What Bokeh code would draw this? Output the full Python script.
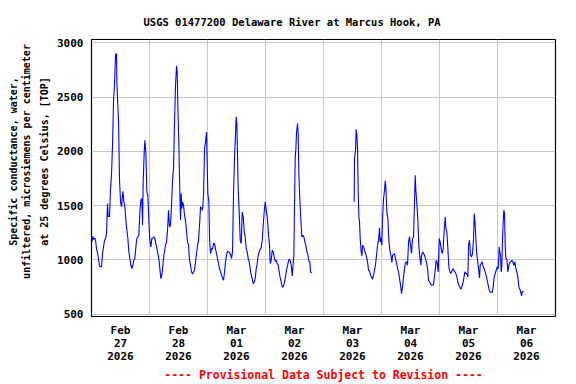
import numpy as np
import pandas as pd
from bokeh.plotting import figure
from bokeh.models import FixedTicker, Range1d, Title, ColumnDataSource
from bokeh.embed import file_html
from bokeh.resources import INLINE

# ---------------- data ----------------
start = pd.Timestamp("2026-02-27 00:00")

# segment 1: hours after Feb 27 00:00, specific conductance (uS/cm)
seg1_hours = [0.29, 0.56, 0.84, 1.39, 1.67, 2.08, 2.50, 2.91, 3.32, 4.15, 4.57, 4.98, 5.39, 5.81, 6.22, 6.63, 6.91, 7.46, 7.88, 8.29,
              8.70, 9.12, 9.53, 9.94, 10.36, 10.50, 10.77, 11.19, 11.60, 12.01, 12.43, 12.70, 12.98, 13.39, 13.81, 14.22, 14.63, 15.05, 15.46, 15.88,
              16.29, 16.70, 17.12, 17.53, 17.94, 18.36, 18.77, 19.19, 19.60, 20.01, 20.43, 20.84, 21.12, 21.39, 21.81, 22.08, 22.50, 22.91, 23.32, 23.74,
              24.15, 24.57, 24.98, 25.39, 25.81, 26.22, 26.63, 27.05, 27.46, 27.88, 28.29, 28.70, 29.12, 29.53, 29.94,
              30.63, 31.05, 31.46, 31.88, 32.29, 32.70, 33.12, 33.53, 33.94, 34.36, 34.77, 35.19, 35.46, 35.74, 36.15, 36.56, 36.84, 37.12, 37.39, 37.67,
              38.08, 38.50, 38.91, 39.32, 39.74, 40.15, 40.57, 40.98, 41.39, 41.81, 42.22, 42.63, 43.05, 43.46, 43.88, 44.29, 44.70, 45.12, 45.53, 45.94,
              46.36, 46.77, 47.19, 47.60, 47.88, 48.15, 48.57, 48.84, 49.25, 49.67, 50.08, 50.50, 50.91, 51.32, 51.74, 52.15, 52.57, 52.98, 53.39, 53.81,
              54.22, 54.63, 55.05, 55.46, 55.87, 56.29, 56.70, 57.12, 57.53, 57.94, 58.36, 58.77, 59.19, 59.60, 59.88, 60.15, 60.43,
              60.70, 61.12, 61.53, 61.94, 62.36, 62.77, 63.19, 63.60, 64.01, 64.43, 64.84, 65.26, 65.67, 66.08, 66.50, 66.91, 67.32, 67.74, 68.15, 68.57,
              68.98, 69.39, 69.81, 70.22, 70.63, 71.05, 71.46, 71.88, 72.15, 72.43, 72.84, 73.26, 73.67, 73.95, 74.36, 74.77, 75.19, 75.60, 76.01, 76.43,
              76.84, 77.26, 77.67, 78.08, 78.50, 78.91, 79.32, 79.74, 80.15, 80.57, 80.98, 81.39, 81.81, 82.22, 82.64, 83.05, 83.46, 83.74, 84.01, 84.29,
              84.57, 84.84, 85.26, 85.53, 85.81, 86.22, 86.64, 87.05, 87.46, 87.88, 88.29, 88.70, 89.12, 89.53, 89.95, 90.36, 90.63, 91.05]
seg1_values = [1170, 1220, 1190, 1200, 1180, 1105, 1060, 1013, 942, 935, 1060, 1120, 1180, 1197, 1243, 1520, 1400, 1400, 1657, 1786,
               2062, 2468, 2624, 2890, 2900, 2640, 2486, 2271, 1734, 1535, 1489, 1565, 1633, 1535, 1489, 1365, 1274, 1197, 1074, 1013,
               951, 920, 951, 997, 1013, 1120, 1197, 1212, 1228, 1442, 1550, 1565, 1320, 1718, 1995, 2102, 1980, 1627, 1596, 1350,
               1181, 1120, 1197, 1203, 1212, 1197, 1151, 1105, 1059, 1013, 920, 828, 859, 951, 1043,
               1135, 1166, 1274, 1458, 1304, 1320, 1504, 1734, 1842, 2271, 2609, 2787, 2732, 2410, 2057, 1627, 1366, 1612, 1473, 1535,
               1504, 1412, 1357, 1259, 1166, 1135, 997, 951, 890, 871, 890, 905, 982, 1059, 1135, 1181, 1320, 1489, 1473, 1458,
               1596, 2026, 2087, 2179, 1873, 1612, 1535, 1197, 1059, 1105, 1099, 1151, 1151, 1099, 1059, 1013, 967, 920, 890, 859,
               835, 813, 890, 982, 1043, 1081, 1074, 1068, 1050, 1013, 1074, 1612, 1949, 2164, 2317, 2256, 1965,
               1642, 1442, 1181, 1151, 1442, 1396, 1259, 1212, 1105, 1074, 1013, 982, 920, 859, 828, 782, 797, 828, 920, 967,
               1043, 1074, 1099, 1111, 1181, 1320, 1442, 1535, 1489, 1442, 1366, 1228, 1129, 967, 997, 1089, 1074, 1028, 988, 997,
               967, 951, 890, 835, 797, 752, 752, 782, 828, 890, 936, 976, 1007, 997, 951, 853, 967, 1043, 1504, 1934,
               2026, 2173, 2256, 2164, 1780, 1550, 1366, 1212, 1228, 1212, 1166, 1129, 1074, 1050, 988, 982, 890, 878]

# segment 2 (after the data gap)
seg2_hours = [108.70, 108.84, 109.25, 109.53, 109.81, 110.08, 110.36, 110.63, 110.91, 111.19, 111.60, 111.88, 112.15, 112.57, 112.98, 113.39, 113.81, 114.22, 114.63, 115.05,
              115.46, 115.88, 116.29, 116.70, 117.12, 117.53, 117.94, 118.36, 118.77, 119.19, 119.46, 119.74, 120.15, 120.43, 120.84, 121.25, 121.53, 121.81, 122.22, 122.63,
              123.05, 123.46, 123.88, 124.29, 124.57, 124.98, 125.39, 125.81, 126.22, 126.63, 127.05, 127.46, 127.88, 128.29, 128.70, 129.12, 129.53, 129.94, 130.36, 130.77,
              131.19, 131.60, 132.01, 132.43, 132.84, 133.25, 133.67, 133.94, 134.22, 134.63, 135.05, 135.46, 135.87, 136.29, 136.56, 136.98, 137.39, 137.81, 138.22, 138.63,
              139.05, 139.46, 139.88, 140.29, 140.70, 141.12, 141.53, 141.94, 142.36,
              142.63, 143.05, 143.46, 143.88, 144.29, 144.70, 145.12, 145.53, 145.94, 146.36, 146.63, 147.05, 147.46, 147.88, 148.29, 148.70, 149.12, 149.53, 149.94, 150.36,
              150.77, 151.19, 151.60, 152.01, 152.43, 152.84, 153.26, 153.67, 154.08, 154.50, 154.91, 155.32, 155.74, 156.01, 156.43, 156.84, 157.25, 157.67, 158.08, 158.36,
              158.63, 158.91, 159.32, 159.74, 160.15, 160.57, 160.84, 161.26, 161.67, 162.08, 162.50, 162.91, 163.32, 163.74, 164.15, 164.57, 164.98, 165.39, 165.81, 166.22,
              166.63, 167.05, 167.46, 167.88, 168.29, 168.70, 168.98, 169.25, 169.53, 169.81, 170.08, 170.36, 170.63, 170.91, 171.19, 171.46, 171.88, 172.29, 172.70, 173.12,
              173.53, 173.94, 174.36, 174.77, 175.19, 175.60, 176.01, 176.43, 176.84, 177.26, 177.67, 177.95, 178.22, 178.77]
seg2_values = [1535, 1934, 2010, 2204, 2149, 2026, 1627, 1396, 1350, 1197, 1074, 1037, 1135, 1120, 1089, 1059, 1028, 982, 905, 896,
               859, 844, 822, 859, 905, 957, 1043, 1135, 1181, 1295, 1166, 1203, 1135, 1381, 1565, 1642, 1728, 1673, 1442, 1381,
               1181, 1089, 1043, 976, 1043, 1050, 1059, 1013, 976, 920, 890, 828, 767, 690, 752, 844, 920, 976, 982, 951,
               1166, 1212, 1135, 1059, 1197, 1212, 1535, 1780, 1642, 1520, 1366, 1120, 1028, 951, 1037, 1074, 1059, 1043, 1013, 976,
               920, 813, 797, 782, 767, 767, 773, 859, 936,
               997, 967, 890, 1197, 1166, 1099, 1059, 1105, 1274, 1396, 1289, 1259, 1105, 936, 890, 875, 896, 920, 905, 890,
               875, 844, 797, 767, 752, 730, 752, 782, 835, 890, 875, 875, 844, 1135, 1181, 1043, 1028, 1059, 1197, 1427,
               1366, 1259, 1074, 997, 920, 835, 951, 967, 982, 936, 920, 890, 853, 813, 767, 721, 700, 706, 700, 752,
               844, 875, 905, 936, 920, 1120, 1074, 1037, 890, 951, 1197, 1350, 1458, 1427, 1135, 1013, 1007, 890, 951, 976,
               982, 997, 982, 951, 982, 920, 890, 844, 752, 730, 700, 669, 706, 712]

tick_days = ["2026-02-27", "2026-02-28", "2026-03-01", "2026-03-02", "2026-03-03", "2026-03-04", "2026-03-05", "2026-03-06"]
tick_labels = ["Feb\n27\n2026", "Feb\n28\n2026", "Mar\n01\n2026", "Mar\n02\n2026",
               "Mar\n03\n2026", "Mar\n04\n2026", "Mar\n05\n2026", "Mar\n06\n2026"]
y_ticks = [500, 1000, 1500, 2000, 2500, 3000]

title_text = "USGS 01477200 Delaware River at Marcus Hook, PA"
ylabel_lines = ["Specific conductance, water,",
                "unfiltered, microsiemens per centimeter",
                "at 25 degrees Celsius, [TOP]"]
footer_text = "---- Provisional Data Subject to Revision ----"

# ---------------- build ----------------
def to_ms(ts):
    return int(pd.Timestamp(ts).value // 10**6)

x1 = start + pd.to_timedelta(seg1_hours, unit="h")
x2 = start + pd.to_timedelta(seg2_hours, unit="h")
src1 = ColumnDataSource(dict(x=x1, y=seg1_values))
src2 = ColumnDataSource(dict(x=x2, y=seg2_values))

day0 = pd.Timestamp(tick_days[0])
x_start = to_ms(day0)
x_end = to_ms(pd.Timestamp(tick_days[-1]) + pd.Timedelta(days=1))
noon_ticks = [to_ms(pd.Timestamp(d) + pd.Timedelta(hours=12)) for d in tick_days]
midnight_ticks = [to_ms(pd.Timestamp(d)) for d in tick_days[1:]]

FONT = "DejaVu Sans Mono"

p = figure(width=576, height=384, x_axis_type="datetime",
           output_backend="svg", toolbar_location=None,
           x_range=Range1d(x_start, x_end), y_range=Range1d(479, 3030),
           min_border_left=91, min_border_right=21, min_border_top=39, min_border_bottom=68)

p.line("x", "y", source=src1, line_color="#0000ff", line_width=1.1)
p.line("x", "y", source=src2, line_color="#0000ff", line_width=1.1)

p.outline_line_color = "black"
p.outline_line_width = 1.2

for ax in (p.xaxis[0], p.yaxis[0]):
    ax.axis_line_color = None
    ax.major_tick_out = 0
    ax.major_tick_in = 0
    ax.minor_tick_out = 0
    ax.minor_tick_in = 0
    ax.major_label_text_font = FONT
    ax.major_label_text_font_style = "bold"
    ax.major_label_text_font_size = "11px"
    ax.major_label_text_color = "black"
    ax.major_label_text_line_height = 1.0

p.yaxis.ticker = FixedTicker(ticks=y_ticks)
p.yaxis.major_label_standoff = 8
p.xaxis.ticker = FixedTicker(ticks=noon_ticks)
p.xaxis.major_label_overrides = {t: lab for t, lab in zip(noon_ticks, tick_labels)}
p.xaxis.major_label_standoff = 7

p.xgrid.ticker = FixedTicker(ticks=midnight_ticks)
p.xgrid.grid_line_color = "#c8c8c8"
p.ygrid.grid_line_color = "#c8c8c8"
p.xgrid.grid_line_width = 1
p.ygrid.grid_line_width = 1

p.title = Title(text=title_text, align="left", offset=52, text_font=FONT,
                text_font_style="bold", text_font_size="10.5px", text_color="black", standoff=23)

CHAR_W = 6.02   # approx. glyph advance of 10px DejaVu Sans Mono
LABEL_CENTER_FROM_BOTTOM = 155
for i, line in enumerate(reversed(ylabel_lines)):
    off = LABEL_CENTER_FROM_BOTTOM - len(line) * CHAR_W / 2
    p.add_layout(Title(text=line, align="left", offset=off, text_font=FONT,
                       text_font_style="bold", text_font_size="10px", text_color="black",
                       text_line_height=0.45, standoff=0 if i else 10), "left")

p.add_layout(Title(text=footer_text, align="center", text_font=FONT, text_font_style="bold",
                   text_font_size="11.5px", text_color="#ff0000", standoff=0), "below")

open("out.html", "w").write(file_html(p, INLINE))
